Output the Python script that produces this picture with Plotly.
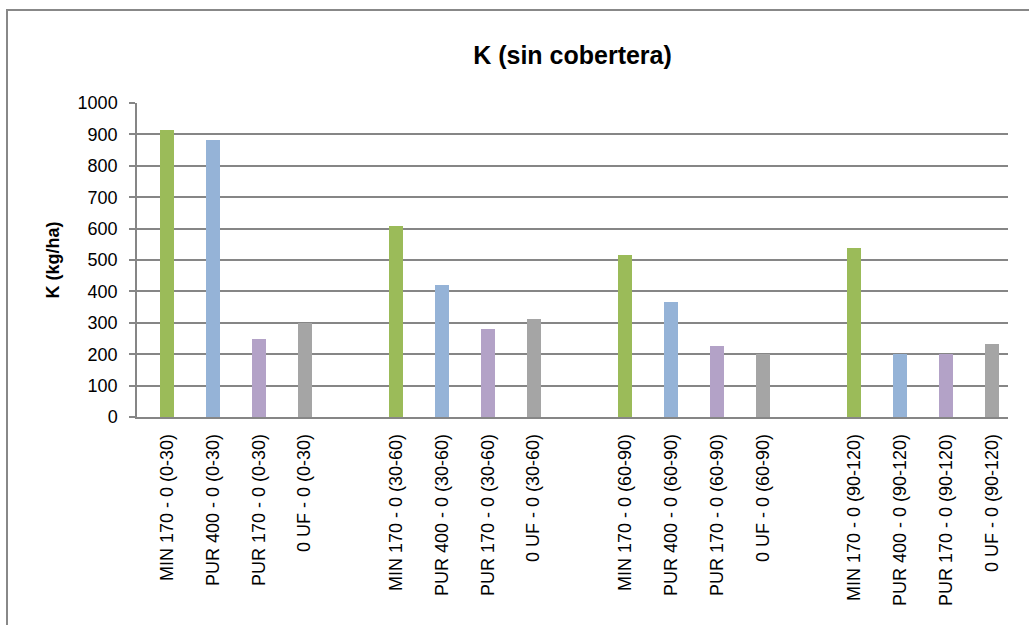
import plotly.graph_objects as go

# ---- data ----
treatments = ["MIN 170 - 0", "PUR 400 - 0", "PUR 170 - 0", "0 UF - 0"]
depths = ["(0-30)", "(30-60)", "(60-90)", "(90-120)"]
k_0_30 = [913, 881, 248, 300]
k_30_60 = [607, 420, 280, 312]
k_60_90 = [515, 366, 225, 202]
k_90_120 = [537, 202, 202, 233]
treatment_colors = ["#9BBB59", "#95B3D7", "#B3A2C7", "#A5A5A5"]

title_text = "K (sin cobertera)"
y_title = "K (kg/ha)"
y_ticks = [0, 100, 200, 300, 400, 500, 600, 700, 800, 900, 1000]

# ---- build positions (one blank category between depth groups) ----
series = [k_0_30, k_30_60, k_60_90, k_90_120]
xs, ys, cols, labels = [], [], [], []
for g, (depth, vals) in enumerate(zip(depths, series)):
    for t, (name, v) in enumerate(zip(treatments, vals)):
        xs.append(g * 5 + t)
        ys.append(v)
        cols.append(treatment_colors[t])
        labels.append(f"{name} {depth}")

FONT = "Liberation Sans, Arial, sans-serif"
GRID = "#868686"

fig = go.Figure()
fig.add_trace(go.Bar(
    x=xs, y=ys, width=0.305,
    marker=dict(color=cols, line=dict(width=0)),
    showlegend=False,
))

fig.update_layout(
    width=1029, height=625,
    margin=dict(l=137, r=21, t=103, b=208),
    paper_bgcolor="white", plot_bgcolor="white",
    title=dict(text=f"<b>{title_text}</b>", x=0.5, xanchor="center",
               xref="paper", y=1 - 55 / 625, yanchor="middle",
               font=dict(family=FONT, size=25, color="black")),
    font=dict(family=FONT, color="black"),
    bargap=0,
)

fig.update_xaxes(
    range=[-0.655, 18.35],
    tickmode="array", tickvals=xs, ticktext=labels,
    tickangle=-90, tickfont=dict(family=FONT, size=18, color="black"),
    showgrid=False, zeroline=False,
    showline=True, linecolor=GRID, linewidth=1.5,
    ticks="", ticklabelstandoff=8,
    automargin=False,
)

fig.update_yaxes(
    range=[0, 1000], tickmode="array", tickvals=y_ticks,
    tickfont=dict(family=FONT, size=18, color="black"),
    showgrid=True, gridcolor=GRID, gridwidth=1.5,
    zeroline=False,
    showline=True, linecolor=GRID, linewidth=1.5,
    ticks="outside", ticklen=6, tickcolor=GRID, tickwidth=1.5,
    ticklabelstandoff=8,
    automargin=False,
    title=dict(text=f"<b>{y_title}</b>", font=dict(family=FONT, size=18, color="black"),
               standoff=13),
)

# outer chart border (left and top visible)
W = 871.0
H = 314.0
fig.add_shape(type="rect", xref="paper", yref="paper",
              x0=(7 - 137) / W, x1=1.1, y0=-0.8, y1=(417 - 10) / H,
              line=dict(color="#888888", width=2), fillcolor="rgba(0,0,0,0)", layer="below")

fig.write_html("out.html", config={"displayModeBar": False},
               post_script="document.body.style.margin='0';")
